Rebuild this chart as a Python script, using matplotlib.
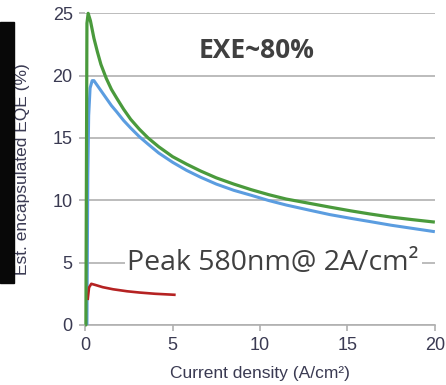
import matplotlib
matplotlib.use("Agg")
import matplotlib.pyplot as plt
from matplotlib.patches import Rectangle

plt.rcParams["font.family"] = ["Liberation Sans", "DejaVu Sans"]

# values
green_x = [0, 0.04, 0.1, 0.17, 0.3, 0.5, 0.7, 0.9, 1.2, 1.5, 1.8, 2.2, 2.6, 3.1, 3.6,
           4.2, 5.0, 5.8, 6.6, 7.5, 8.5, 9.5, 10.5, 11.5, 12.85, 14.0, 15.2, 16.3,
           17.5, 18.7, 20.0]
green_y = [0, 0, 24.2, 25.0, 24.4, 23.0, 21.9, 20.9, 19.8, 18.9, 18.2, 17.3, 16.5,
           15.7, 15.0, 14.3, 13.5, 12.9, 12.35, 11.8, 11.3, 10.85, 10.45, 10.1, 9.75,
           9.45, 9.15, 8.9, 8.65, 8.45, 8.25]

blue_x = [0.1, 0.15, 0.2, 0.28, 0.4, 0.5, 0.7, 0.9, 1.2, 1.5, 1.8, 2.2, 2.6, 3.1, 3.6,
          4.2, 5.0, 5.8, 6.6, 7.5, 8.5, 9.5, 10.5, 11.5, 12.85, 14.0, 15.2, 16.3,
          17.5, 18.7, 20.0]
blue_y = [0, 12.0, 16.8, 19.0, 19.6, 19.6, 19.2, 18.8, 18.2, 17.6, 17.1, 16.4, 15.8,
          15.1, 14.5, 13.8, 13.05, 12.4, 11.85, 11.3, 10.8, 10.4, 9.98, 9.62, 9.2,
          8.85, 8.55, 8.29, 8.0, 7.75, 7.48]

red_x = [0.15, 0.22, 0.35, 0.6, 1.0, 1.6, 2.4, 3.1, 4.0, 5.1]
red_y = [2.1, 3.0, 3.3, 3.2, 3.03, 2.86, 2.7, 2.6, 2.5, 2.42]

x_ticks = [0, 5, 10, 15, 20]
y_ticks = [0, 5, 10, 15, 20, 25]

fig = plt.figure(figsize=(4.46, 3.85), dpi=100)
ax = fig.add_axes([0.191, 0.156, 0.784, 0.8094])

# black strip at the far left of the picture
fig.patches.append(Rectangle((0, 1 - 283 / 385), 14 / 446, 261 / 385,
                             transform=fig.transFigure, color="#080808", zorder=0))

ax.plot(blue_x, blue_y, color="#5b9de0", lw=2.2, solid_capstyle="butt", zorder=3)
ax.plot(green_x, green_y, color="#4a9a3c", lw=2.3, solid_capstyle="butt", zorder=4,
        clip_on=False)
ax.plot(red_x, red_y, color="#b52222", lw=1.9, zorder=3)

ax.set_xlim(0, 20)
ax.set_ylim(0, 25)
ax.set_xticks(x_ticks)
ax.set_yticks(y_ticks)

ax.yaxis.grid(True, color="#b0b0b0", lw=1.2, zorder=1)
ax.set_axisbelow(True)
for s in ["top", "right", "left"]:
    ax.spines[s].set_visible(False)
ax.spines["bottom"].set_color("#b0b0b0")
ax.spines["bottom"].set_linewidth(1.2)

tick_col = "#3a3a52"
ax.tick_params(axis="y", length=4, width=1.2, color="#b0b0b0", pad=5,
               labelsize=13, labelcolor=tick_col)
ax.tick_params(axis="x", length=4, width=1.2, color="#b0b0b0", pad=5,
               labelsize=13, labelcolor=tick_col)

ax.set_xlabel("Current density (A/cm\u00b2)", fontsize=12.5, color=tick_col,
              labelpad=8)
ax.set_ylabel("Est. encapsulated EQE (%)", fontsize=12.5, color=tick_col,
              labelpad=16)

ax.text(9.8, 22.05, "EXE~80%", fontsize=19, fontweight="bold", color="#404040",
        fontfamily="Open Sans", ha="center", va="center")
ax.text(10.75, 5.0, "Peak 580nm@ 2A/cm\u00b2", fontsize=20.5, color="#404040",
        fontfamily="Open Sans", ha="center", va="center", zorder=5,
        bbox=dict(boxstyle="square,pad=0.1", fc="white", ec="none"))

fig.savefig("out.png", dpi=100)
